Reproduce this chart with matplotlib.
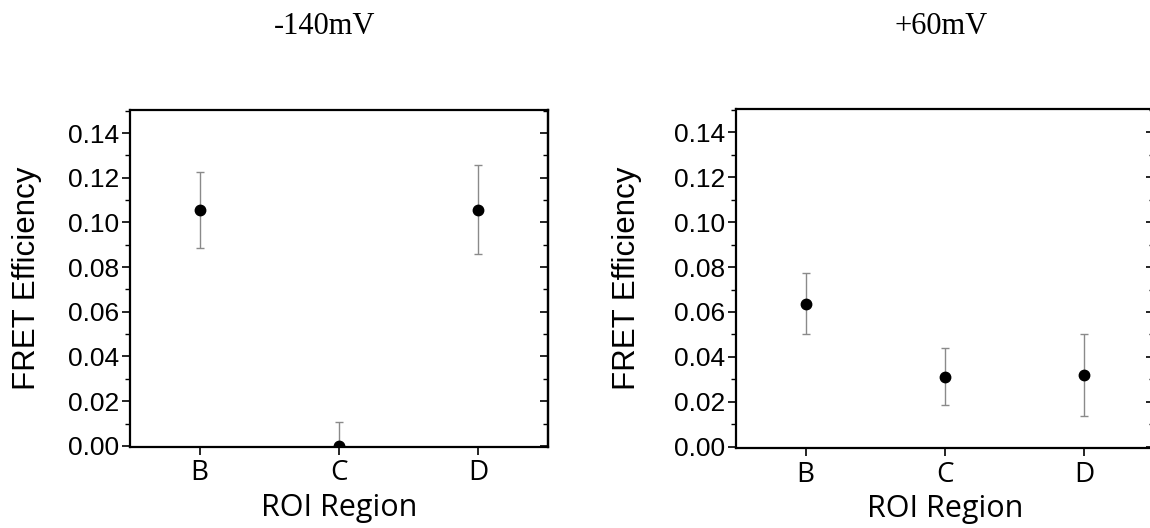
import matplotlib
matplotlib.use("Agg")
import matplotlib.pyplot as plt
from matplotlib.ticker import MultipleLocator
from matplotlib.transforms import blended_transform_factory

categories = ["B", "C", "D"]
titles = ["-140mV", "+60mV"]
left_values = [0.1056, 0.0, 0.1056]
left_err_up = [0.0169, 0.0105, 0.0203]
left_err_down = [0.0169, 0.0105, 0.0198]
right_values = [0.0637, 0.0312, 0.0320]
right_err_up = [0.0138, 0.0128, 0.0183]
right_err_down = [0.0136, 0.0125, 0.0184]
yticks = [0.00, 0.02, 0.04, 0.06, 0.08, 0.10, 0.12, 0.14]

W, H = 1150, 528
fig = plt.figure(figsize=(W / 100, H / 100), dpi=100)

def rect(x0, x1, ytop, ybot):
    return [x0 / W, 1 - ybot / H, (x1 - x0) / W, (ybot - ytop) / H]

axes = [fig.add_axes(rect(130, 548, 110, 447)),
        fig.add_axes(rect(736, 1154, 109, 448))]
data = [(left_values, left_err_down, left_err_up),
        (right_values, right_err_down, right_err_up)]
ylabel_x = [27, 627]
title_x = [325, 941]

for i, ax in enumerate(axes):
    vals, lo, hi = data[i]
    xs = list(range(1, len(categories) + 1))
    ax.errorbar(xs, vals, yerr=[lo, hi], fmt="o", color="black",
                ecolor="#8a8a8a", elinewidth=1.0, capsize=3, capthick=1.0,
                markersize=7.5, zorder=3)
    ax.set_xlim(0.5, 3.5)
    ax.set_ylim(-0.0005, 0.1503)
    ax.set_xticks(xs)
    ax.set_xticklabels(categories, family="Open Sans", fontsize=20)
    ax.set_yticks(yticks)
    ax.set_yticklabels([f"{v:.2f}" for v in yticks], family="Liberation Sans", fontsize=19)
    ax.yaxis.set_minor_locator(MultipleLocator(0.01))
    ax.tick_params(axis="y", which="major", direction="out", length=6, width=1.2, pad=2)
    ax.tick_params(axis="y", which="minor", direction="out", length=3.5, width=1.0)
    ax.tick_params(axis="x", which="major", direction="out", length=6, width=1.2, pad=3)
    for s in ax.spines.values():
        s.set_linewidth(1.6)
    sec = ax.secondary_yaxis("right")
    sec.set_yticks(yticks)
    sec.yaxis.set_minor_locator(MultipleLocator(0.01))
    sec.tick_params(axis="y", which="major", direction="in", length=6, width=1.2, labelright=False)
    sec.tick_params(axis="y", which="minor", direction="in", length=3.5, width=1.0)
    sec.spines["right"].set_linewidth(1.6)
    ax.set_xlabel("ROI Region", family="Open Sans", fontsize=22, labelpad=4)
    ax.set_ylabel("FRET Efficiency", family="Liberation Sans", fontsize=22.5)
    ax.yaxis.set_label_coords(ylabel_x[i] / W, 0.5,
                              transform=blended_transform_factory(fig.transFigure, ax.transAxes))
    ax.yaxis.label.set_verticalalignment("center")
    fig.text(title_x[i] / W, 1 - 27 / H, titles[i], family="Liberation Serif",
             fontsize=22, ha="center", va="center")

fig.savefig("out.png", dpi=100)
